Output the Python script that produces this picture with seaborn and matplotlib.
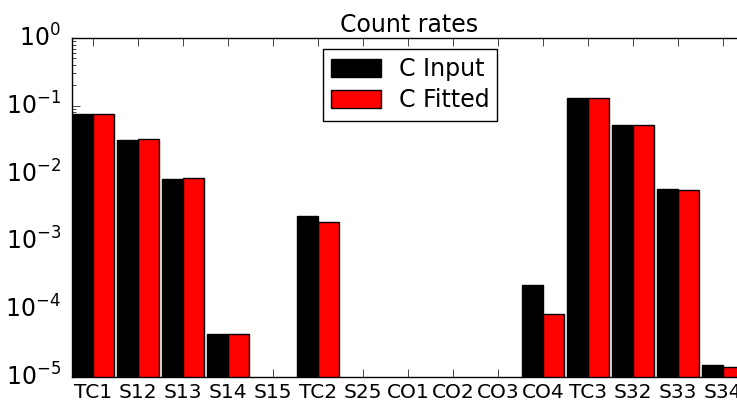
import numpy as np
import pandas as pd
import matplotlib
matplotlib.use("Agg")
import matplotlib.pyplot as plt
import seaborn as sns

# ---- data ----
channels = ["TC1", "S12", "S13", "S14", "S15", "TC2", "S25", "CO1",
            "CO2", "CO3", "CO4", "TC3", "S32", "S33", "S34"]
c_input = [0.0757, 0.0313, 0.0083, 4.3e-5, np.nan, 2.34e-3, np.nan, np.nan,
           np.nan, np.nan, 2.3e-4, 0.129, 0.0515, 6.0e-3, 1.49e-5]
c_fitted = [0.0757, 0.0320, 0.0086, 4.3e-5, np.nan, 1.93e-3, np.nan, np.nan,
            np.nan, np.nan, 8.4e-5, 0.129, 0.0515, 5.73e-3, 1.42e-5]

df = pd.concat([
    pd.DataFrame({"channel": channels, "rate": c_input, "series": "C Input"}),
    pd.DataFrame({"channel": channels, "rate": c_fitted, "series": "C Fitted"}),
], ignore_index=True)

plt.style.use("classic")
plt.rcParams["font.family"] = "DejaVu Sans"

fig = plt.figure(figsize=(7.37, 4.01), dpi=100, facecolor="white")
ax = fig.add_axes([72 / 737, 24 / 401, 675 / 737, 339 / 401])

sns.barplot(
    data=df, x="channel", y="rate", hue="series", order=channels,
    hue_order=["C Input", "C Fitted"], palette=["#000000", "#ff0000"],
    saturation=1, width=0.93, edgecolor="black", linewidth=1,
    errorbar=None, ax=ax,
)

ax.set_yscale("log")
ax.set_ylim(1e-5, 1e0)
ax.set_xlim(-0.465, 14.535)
ax.set_xlabel("")
ax.set_ylabel("")
ax.set_title("Count rates", fontsize=17, pad=4)

ax.tick_params(axis="x", labelsize=14.5, pad=4)
ax.tick_params(axis="y", which="major", labelsize=17, pad=8, length=6)
ax.tick_params(axis="y", which="minor", length=3)
ax.tick_params(axis="x", length=6)

sns.move_legend(
    ax, "upper left", bbox_to_anchor=(323 / 737, 1 - 49 / 401),
    bbox_transform=fig.transFigure, title=None, frameon=True,
    fontsize=17, handlelength=2.1, handleheight=0.75, labelspacing=0.3,
    borderpad=0.35, borderaxespad=0, handletextpad=0.75, fancybox=False,
)

fig.savefig("out.png", dpi=100, facecolor="white")
